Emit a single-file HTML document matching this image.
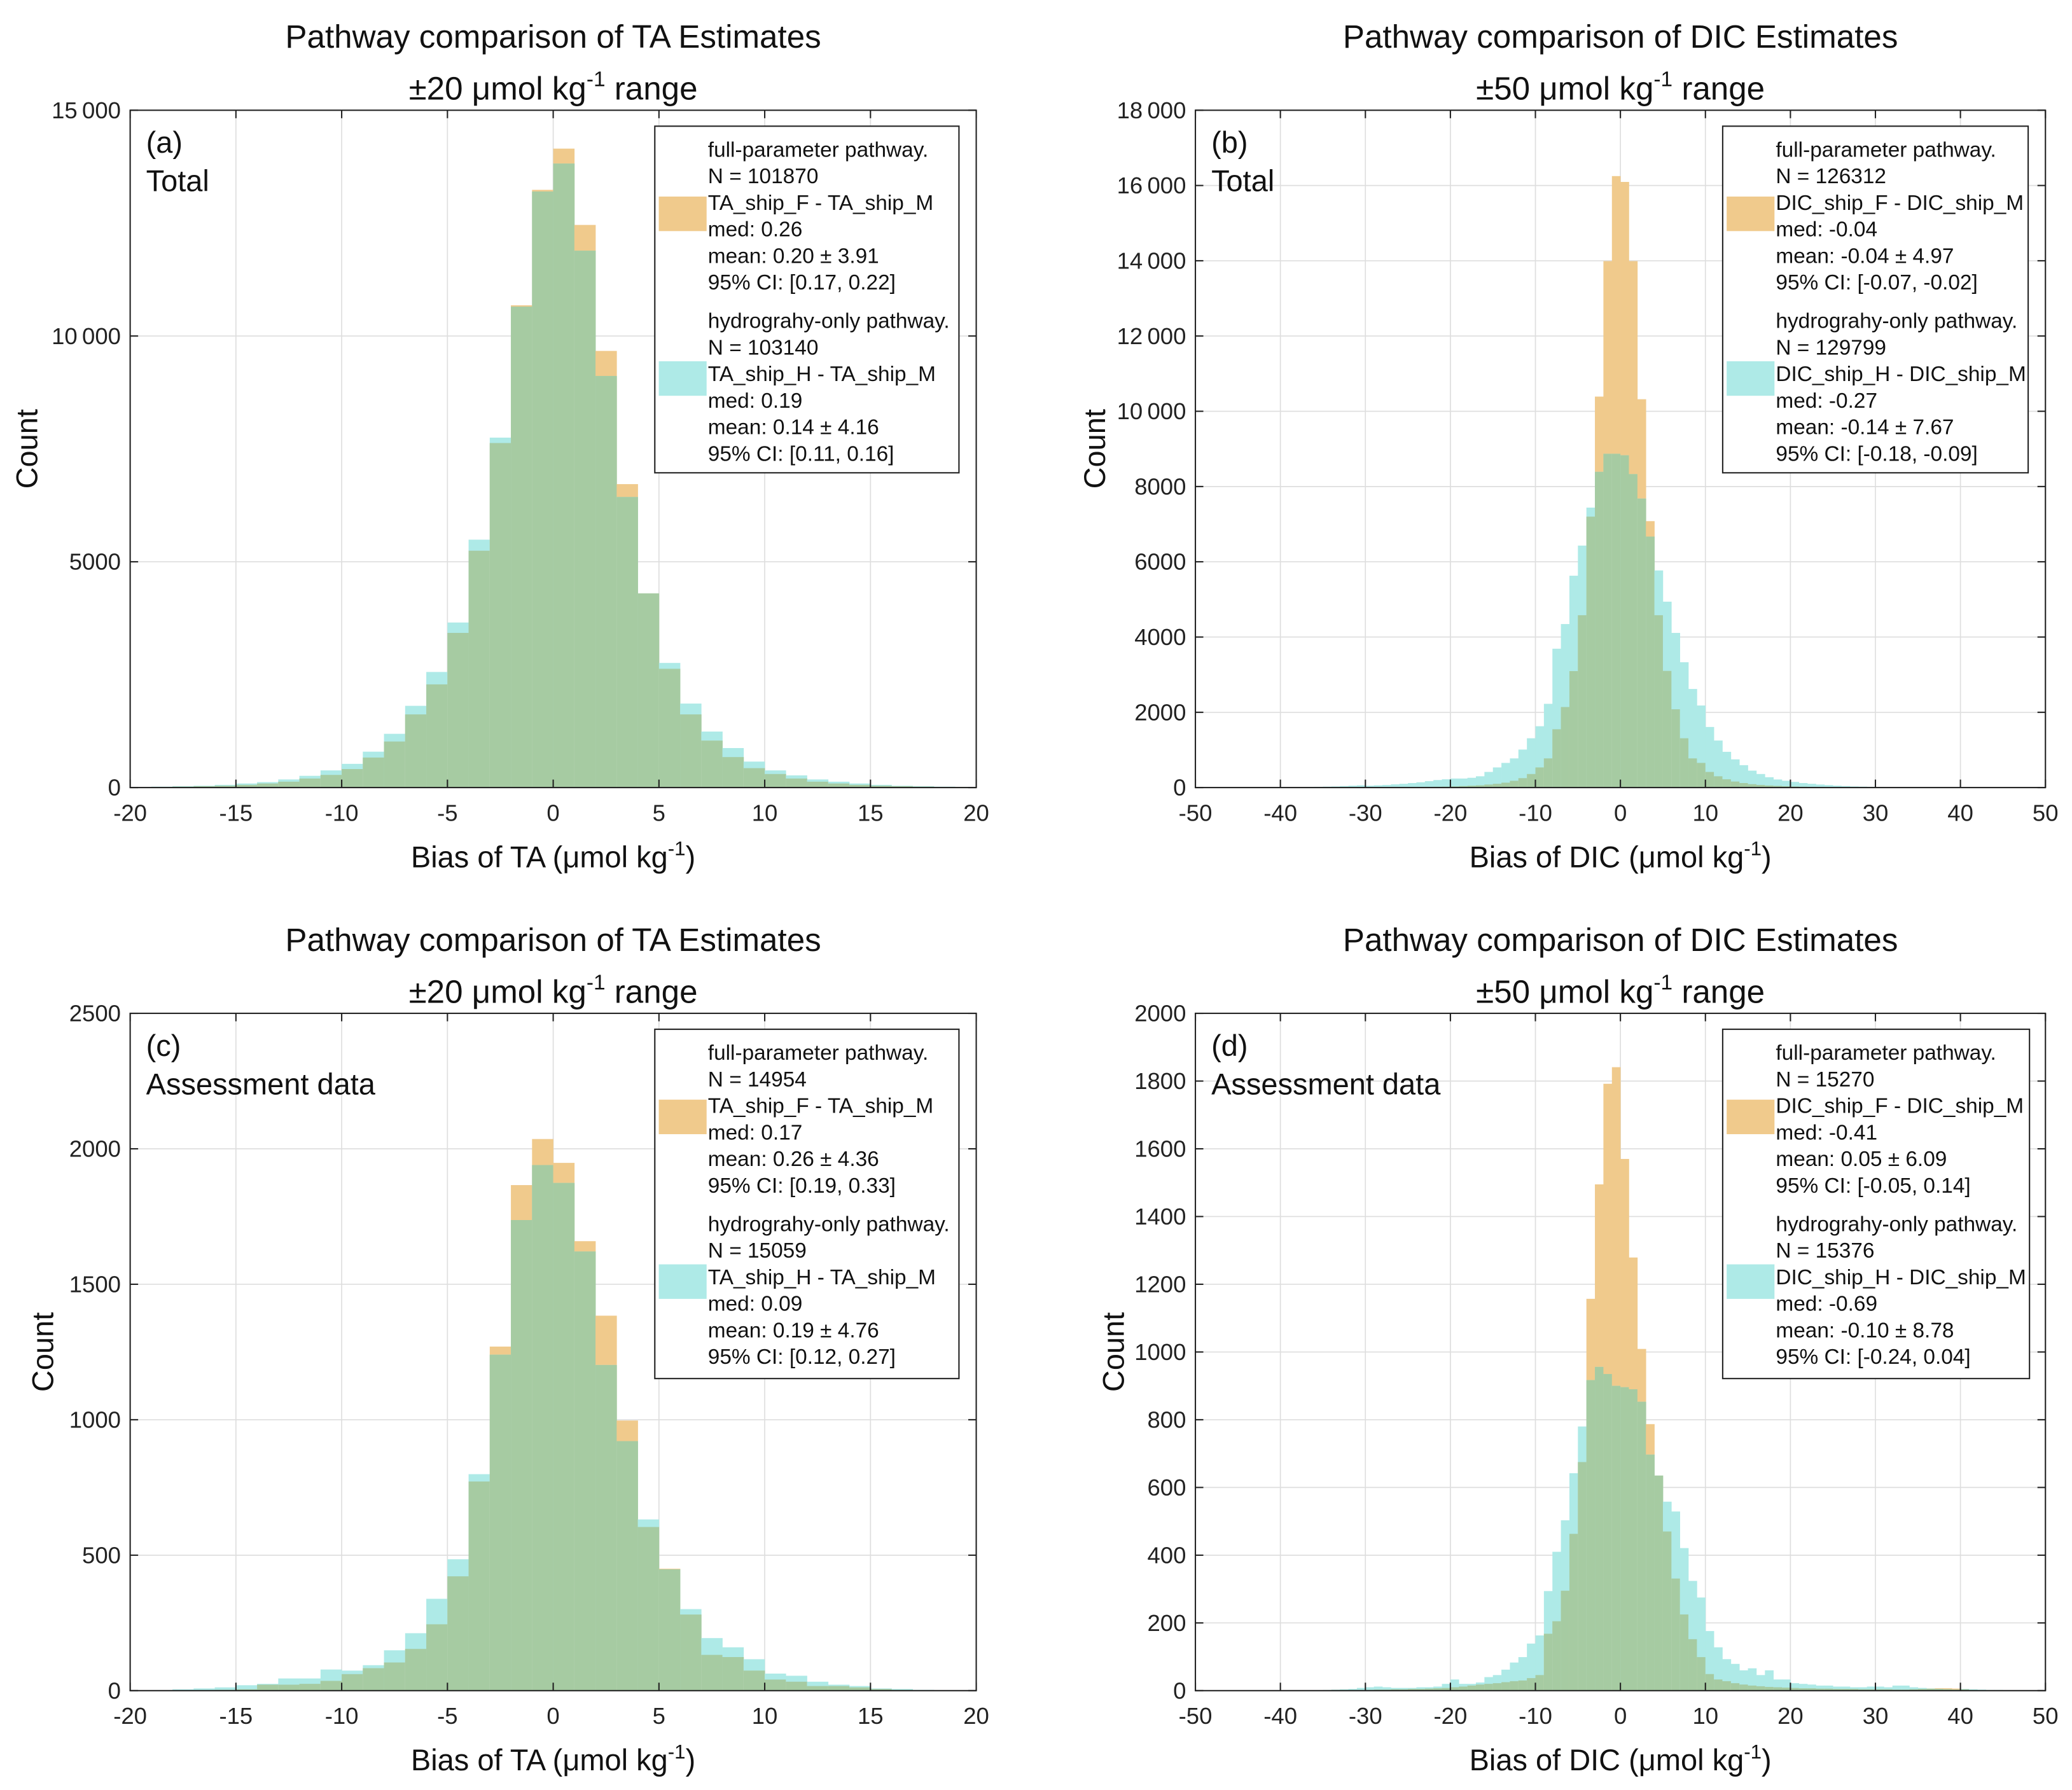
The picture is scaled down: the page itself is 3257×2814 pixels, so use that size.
<!DOCTYPE html>
<html><head><meta charset="utf-8"><style>
html,body{margin:0;padding:0;background:#fff;}
svg{display:block;font-family:"Liberation Sans",sans-serif;}
</style></head><body>
<svg id="fig" width="3257" height="2814" viewBox="0 0 1560 1347.8" xmlns="http://www.w3.org/2000/svg"></svg>
<script>
// ---- data ----
const taBinStart = -20;
const dicBinStart = -50;
const aFull = [5,10,20,30,40,60,90,130,200,280,410,665,1020,1620,2285,3425,5245,7630,10680,13237,14150,12460,9670,6720,4300,2630,1620,1040,675,430,300,200,130,90,60,40,30,20,15,10];
const aHydro = [10,20,30,40,60,90,120,180,260,380,525,795,1190,1810,2560,3655,5490,7750,10650,13200,13820,11890,9115,6435,4300,2760,1860,1240,875,575,380,270,180,130,90,60,40,30,20,10];
const bFull = [0,0,0,0,0,0,0,0,0,0,2,3,4,5,6,8,10,12,15,18,
 8,9,10,12,14,16,18,20,22,25,
 30,40,50,60,80,100,130,180,250,360,
 535,775,1550,2140,3095,4580,7200,10390,13990,16250,
 16095,13990,10320,7080,4580,3100,2080,1310,775,655,
 415,300,220,160,120,90,70,55,45,35,
 28,22,18,15,12,10,8,6,5,4,
 3,3,2,2,2,1,1,1,1,1,0,0,0,0,0,0,0,0,0,0];
const bHydro = [0,0,1,1,2,2,3,4,5,6,
 8,10,12,15,20,25,30,40,50,60,
 50,60,70,85,100,120,140,170,200,220,
 240,240,260,300,415,535,655,775,1010,1310,
 1630,2225,3690,4345,5630,6430,7440,8390,8870,8870,
 8830,8330,7680,6670,5770,4940,4110,3330,2620,2180,
 1610,1250,950,750,595,450,360,275,215,180,
 150,120,100,80,65,50,40,30,25,20,
 15,12,10,8,6,5,4,3,2,2,1,1,1,1,1,0,0,0,0,0];
const cFull = [0,0,1,2,3,5,22,22,25,36,61,83,104,154,245,422,772,1270,1866,2036,1948,1659,1384,997,604,450,281,132,124,74,41,33,17,17,12,6,3,1,0,0];
const cHydro = [0,2,5,8,12,20,25,45,45,78,74,94,149,212,339,485,799,1240,1737,1940,1874,1621,1202,921,632,448,301,194,160,116,63,55,33,22,17,8,6,3,1,1];
const dFull = [0,0,0,0,0,0,0,0,0,0,1,1,1,1,1,1,2,2,2,2,
 2,3,3,4,4,5,5,6,7,8,
 10,12,15,18,20,22,25,28,30,37,
 46,168,205,295,463,675,1157,1495,1792,1841,
 1570,1279,1009,787,635,470,331,225,152,99,
 49,33,28,22,18,15,13,11,10,9,
 8,7,7,6,6,5,5,5,4,4,
 4,4,3,3,4,5,6,7,7,6,
 4,2,1,1,0,0,0,0,0,0];
const dHydro = [0,0,0,0,0,0,0,1,1,1,
 1,1,1,1,1,2,3,4,5,8,
 10,12,10,8,8,8,10,10,12,20,
 33,20,20,24,40,46,62,83,99,139,
 163,294,410,503,642,780,917,956,935,900,
 896,890,853,697,635,558,529,421,324,275,
 176,128,93,79,60,66,46,60,33,33,
 22,20,18,15,15,12,12,10,10,12,
 12,10,15,15,10,8,6,5,4,3,
 5,4,3,2,2,1,1,1,0,0];
const taTicks = [-20,-15,-10,-5,0,5,10,15,20];
const dicTicks = [-50,-40,-30,-20,-10,0,10,20,30,40,50];
const aYTicks = [0,5000,10000,15000];
const bYTicks = [0,2000,4000,6000,8000,10000,12000,14000,16000,18000];
const cYTicks = [0,500,1000,1500,2000,2500];
const dYTicks = [0,200,400,600,800,1000,1200,1400,1600,1800,2000];

const NS="http://www.w3.org/2000/svg";
const svg=document.getElementById('fig');
function mk(tag,attrs,parent){const e=document.createElementNS(NS,tag);for(const k in attrs)e.setAttribute(k,attrs[k]);(parent||svg).appendChild(e);return e;}
function fmt(v){return v>=10000?String(v).replace(/(\d+)(\d{3})$/,'$1\u2009$2'):String(v);}

function panel(p){
  const g=mk('g',{});
  
  
  const X0=p.x0,X1=p.x1,Y0=p.y0,Y1=p.y1;
  const xs=v=>X0+(v-p.xmin)/(p.xmax-p.xmin)*(X1-X0);
  const ys=v=>Y1-v/p.ymax*(Y1-Y0);
  mk('rect',{x:X0,y:Y0,width:X1-X0,height:Y1-Y0,fill:'#fff'},g);
  p.xt.forEach(t=>{const l=mk('line',{x1:xs(t),x2:xs(t),y1:Y0,y2:Y1,stroke:'#dedede','stroke-width':0.8},g);
    });
  p.yt.forEach(t=>{const l=mk('line',{x1:X0,x2:X1,y1:ys(t),y2:ys(t),stroke:'#dedede','stroke-width':0.8},g);
    });
  const n=p.full.length;
  for(let i=0;i<n;i++){
    const a=p.binStart+i, x=xs(a), w=xs(a+1)-x;
    const o=p.full[i], c=p.hydro[i], m=Math.min(o,c);
    if(o>0){const r=mk('rect',{x:x,y:ys(o),width:w+0.15,height:Y1-ys(o),fill:'#f0ca8c'},g);
      }
    if(c>0){const r=mk('rect',{x:x,y:ys(c),width:w+0.15,height:Y1-ys(c),fill:'#aeeae7'},g);
      }
    if(m>0){const r=mk('rect',{x:x,y:ys(m),width:w+0.15,height:Y1-ys(m),fill:'#a6cba2'},g);
      }
  }
  mk('rect',{x:X0,y:Y0,width:X1-X0,height:Y1-Y0,fill:'none',stroke:'#222','stroke-width':1},g);
  p.xt.forEach(t=>{mk('line',{x1:xs(t),x2:xs(t),y1:Y1,y2:Y1-6,stroke:'#222'},g);mk('line',{x1:xs(t),x2:xs(t),y1:Y0,y2:Y0+6,stroke:'#222'},g);
    const tx=mk('text',{x:xs(t),y:Y1+25,'font-size':17.5,'text-anchor':'middle',fill:'#222'},g);tx.textContent=t;
    });
  p.yt.forEach(t=>{mk('line',{x1:X0,x2:X0+6,y1:ys(t),y2:ys(t),stroke:'#222'},g);mk('line',{x1:X1,x2:X1-6,y1:ys(t),y2:ys(t),stroke:'#222'},g);
    const tx=mk('text',{x:X0-7,y:ys(t)+6,'font-size':17.5,'text-anchor':'end',fill:'#222'},g);tx.textContent=fmt(t);
    });
  const cx=(X0+X1)/2;
  let t=mk('text',{x:cx,y:Y0-47,'font-size':24.5,'text-anchor':'middle',fill:'#111'},g);t.textContent=p.title;
  
  t=mk('text',{x:cx,y:Y0-8,'font-size':24.5,'text-anchor':'middle',fill:'#111'},g);
  t.innerHTML=p.range+' μmol kg<tspan dy="-10" font-size="16">-1</tspan><tspan dy="10"> range</tspan>';
  
  t=mk('text',{x:cx,y:Y1+60,'font-size':22.5,'text-anchor':'middle',fill:'#111'},g);
  t.innerHTML=p.xlabel+' (μmol kg<tspan dy="-9" font-size="15">-1</tspan><tspan dy="9">)</tspan>';
  
  const yx=p.ylx, yy=(Y0+Y1)/2;
  t=mk('text',{x:yx,y:yy,'font-size':22.5,'text-anchor':'middle',fill:'#111',transform:'rotate(-90 '+yx+' '+yy+')'},g);t.textContent='Count';
  
  t=mk('text',{x:X0+12,y:Y0+32,'font-size':22.5,fill:'#111'},g);t.textContent=p.label;
  
  t=mk('text',{x:X0+12,y:Y0+61,'font-size':22.5,fill:'#111'},g);t.textContent=p.sub;
  
  const L=mk('g',{},g);
  const lx=X0+p.legX, ly=Y0+12, lw=p.legW, lh=p.legH;
  mk('rect',{x:lx,y:ly,width:lw,height:lh,fill:'#fff',stroke:'#222','stroke-width':1},L);
  const sw1=mk('rect',{x:lx+3,y:ly+53,width:36,height:26,fill:'#f0ca8c'},L);
  
  const sw2=mk('rect',{x:lx+3,y:ly+p.sw2,width:36,height:26,fill:'#aeeae7'},L);
  
  p.leg.forEach((s,i)=>{const yy2=ly+23+i*20+(i>=6?p.gap:0);
    const e=mk('text',{x:lx+40,y:yy2,'font-size':16,fill:'#111'},L);e.textContent=s;
    });
}
panel({id:'a',x0:98,x1:735,y0:83,y1:593,xmin:-20,xmax:20,ymax:15000,xt:taTicks,yt:aYTicks,binStart:taBinStart,full:aFull,hydro:aHydro,
 title:'Pathway comparison of TA Estimates',range:'±20',xlabel:'Bias of TA',ylx:28,label:'(a)',sub:'Total',legX:395,legW:229,legH:261,sw2:177,gap:9,
 leg:['full-parameter pathway.','N = 101870','TA_ship_F - TA_ship_M','med: 0.26','mean: 0.20 ± 3.91','95% CI: [0.17, 0.22]','hydrograhy-only pathway.','N = 103140','TA_ship_H - TA_ship_M','med: 0.19','mean: 0.14 ± 4.16','95% CI: [0.11, 0.16]']});
panel({id:'b',x0:900,x1:1540,y0:83,y1:593,xmin:-50,xmax:50,ymax:18000,xt:dicTicks,yt:bYTicks,binStart:dicBinStart,full:bFull,hydro:bHydro,
 title:'Pathway comparison of DIC Estimates',range:'±50',xlabel:'Bias of DIC',ylx:832,label:'(b)',sub:'Total',legX:397,legW:230,legH:261,sw2:177,gap:9,
 leg:['full-parameter pathway.','N = 126312','DIC_ship_F - DIC_ship_M','med: -0.04','mean: -0.04 ± 4.97','95% CI: [-0.07, -0.02]','hydrograhy-only pathway.','N = 129799','DIC_ship_H - DIC_ship_M','med: -0.27','mean: -0.14 ± 7.67','95% CI: [-0.18, -0.09]']});
panel({id:'c',x0:98,x1:735,y0:763,y1:1273,xmin:-20,xmax:20,ymax:2500,xt:taTicks,yt:cYTicks,binStart:taBinStart,full:cFull,hydro:cHydro,
 title:'Pathway comparison of TA Estimates',range:'±20',xlabel:'Bias of TA',ylx:40,label:'(c)',sub:'Assessment data',legX:395,legW:229,legH:263,sw2:177,gap:9,
 leg:['full-parameter pathway.','N = 14954','TA_ship_F - TA_ship_M','med: 0.17','mean: 0.26 ± 4.36','95% CI: [0.19, 0.33]','hydrograhy-only pathway.','N = 15059','TA_ship_H - TA_ship_M','med: 0.09','mean: 0.19 ± 4.76','95% CI: [0.12, 0.27]']});
panel({id:'d',x0:900,x1:1540,y0:763,y1:1273,xmin:-50,xmax:50,ymax:2000,xt:dicTicks,yt:dYTicks,binStart:dicBinStart,full:dFull,hydro:dHydro,
 title:'Pathway comparison of DIC Estimates',range:'±50',xlabel:'Bias of DIC',ylx:846,label:'(d)',sub:'Assessment data',legX:397,legW:231,legH:263,sw2:177,gap:9,
 leg:['full-parameter pathway.','N = 15270','DIC_ship_F - DIC_ship_M','med: -0.41','mean: 0.05 ± 6.09','95% CI: [-0.05, 0.14]','hydrograhy-only pathway.','N = 15376','DIC_ship_H - DIC_ship_M','med: -0.69','mean: -0.10 ± 8.78','95% CI: [-0.24, 0.04]']});
</script>
</body></html>
